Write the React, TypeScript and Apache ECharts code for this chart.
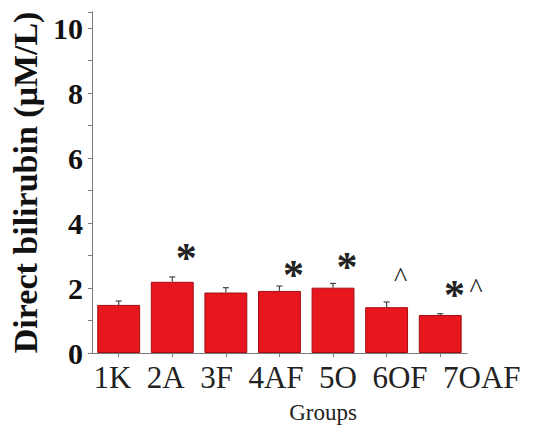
import React, { useEffect, useRef } from 'react';
import * as echarts from 'echarts';

const categories = ['1K', '2A', '3F', '4AF', '5O', '6OF', '7OAF'];
const means = [1.48, 2.19, 1.86, 1.91, 2.01, 1.41, 1.17];
const errors = [0.12, 0.15, 0.15, 0.15, 0.13, 0.16, 0.04];
const yLabelValues = [0, 2, 4, 6, 8, 10];
const annotationGroups = ['2A', '4AF', '5O', '6OF', '7OAF'];
const annotationY = [3.17, 2.65, 2.89, 2.35, 2.03];
const annotationMarks = ['*', '*', '*', '^', '*^'];
const yAxisTitle = 'Direct bilirubin (\u03bcM/L)';
const xAxisTitle = 'Groups';

const SERIF = '"Liberation Serif", "Times New Roman", serif';

function markToRich(m: string): string {
  if (m === '*') return '{s|*}';
  if (m === '^') return '{c|^}';
  return '{s|*}{g|\u00a0}{c|^}';
}

export default function App() {
  const ref = useRef<HTMLDivElement>(null);
  useEffect(() => {
    document.body.style.margin = '0';
    const chart = echarts.init(ref.current!, null, { renderer: 'svg' });
    const option: any = {
      animation: false,
      backgroundColor: '#ffffff',
      grid: { left: 86, right: 66, top: 11.75, bottom: 81, containLabel: false },
      xAxis: {
        type: 'category',
        data: categories,
        axisLine: { show: true, lineStyle: { color: '#7a7a7a', width: 1 } },
        axisTick: { show: true, alignWithLabel: true, length: 4, lineStyle: { color: '#7a7a7a' } },
        axisLabel: { show: false },
        splitLine: { show: false },
      },
      yAxis: {
        type: 'value',
        min: 0,
        max: 10.5,
        interval: 1,
        name: yAxisTitle,
        nameLocation: 'middle',
        nameGap: 43,
        nameTextStyle: { fontFamily: SERIF, fontWeight: 'bold', fontSize: 34, color: '#111' },
        axisLine: { show: true, lineStyle: { color: '#7a7a7a', width: 1 } },
        axisTick: { show: true, length: 4, lineStyle: { color: '#7a7a7a' } },
        axisLabel: {
          margin: 9,
          fontFamily: SERIF,
          fontWeight: 'bold',
          fontSize: 30,
          color: '#111',
          formatter: (v: number) => (yLabelValues.indexOf(v) >= 0 ? String(v) : ''),
        },
        splitLine: { show: false },
      },
      series: [
        {
          type: 'bar',
          data: means,
          barWidth: '80%',
          itemStyle: { color: '#e8161d', borderColor: '#a30d12', borderWidth: 1 },
          z: 2,
        },
        {
          type: 'custom',
          data: means.map((m, i) => [i, m, errors[i]]),
          encode: { x: 0, y: 1 },
          z: 3,
          renderItem: (params: any, api: any) => {
            const x = api.value(0);
            const m = api.value(1);
            const e = api.value(2);
            const base = api.coord([x, m]);
            const top = api.coord([x, m + e]);
            const half = 3;
            return {
              type: 'group',
              children: [
                { type: 'line', shape: { x1: base[0], y1: base[1], x2: top[0], y2: top[1] }, style: { stroke: '#444', lineWidth: 1.2 } },
                { type: 'line', shape: { x1: top[0] - half, y1: top[1], x2: top[0] + half, y2: top[1] }, style: { stroke: '#444', lineWidth: 1.2 } },
              ],
            };
          },
        },
        {
          type: 'custom',
          data: annotationGroups.map((g, i) => [categories.indexOf(g), annotationY[i], i]),
          encode: { x: 0, y: 1 },
          z: 4,
          renderItem: (params: any, api: any) => {
            const x = api.value(0);
            const y = api.value(1);
            const idx = api.value(2);
            const p = api.coord([x, y]);
            const mark = annotationMarks[idx];
            const dx = mark.length > 1 ? 23 : 14;
            return {
              type: 'text',
              x: p[0] + dx,
              y: p[1],
              style: {
                text: markToRich(mark),
                align: 'center',
                verticalAlign: 'middle',
                rich: {
                  s: { fontFamily: SERIF, fontWeight: 'bold', fontSize: 42, fill: '#222', padding: [16, 0, 0, 0] },
                  c: { fontFamily: SERIF, fontSize: 28, fill: '#222' },
                  g: { fontFamily: SERIF, fontSize: 18 },
                },
              },
            };
          },
        },
      ],
      graphic: [
        {
          type: 'text',
          x: 307,
          y: 377.5,
          style: {
            text: categories.join('\u00a0\u00a0'),
            fontFamily: SERIF,
            fontSize: 31,
            fill: '#222',
            align: 'center',
            verticalAlign: 'middle',
          },
        },
        {
          type: 'text',
          x: 323,
          y: 412.6,
          style: {
            text: xAxisTitle,
            fontFamily: SERIF,
            fontSize: 23,
            fill: '#222',
            align: 'center',
            verticalAlign: 'middle',
          },
        },
      ],
    };
    chart.setOption(option);
    return () => chart.dispose();
  }, []);
  return <div ref={ref} style={{ width: 533, height: 434 }} />;
}
